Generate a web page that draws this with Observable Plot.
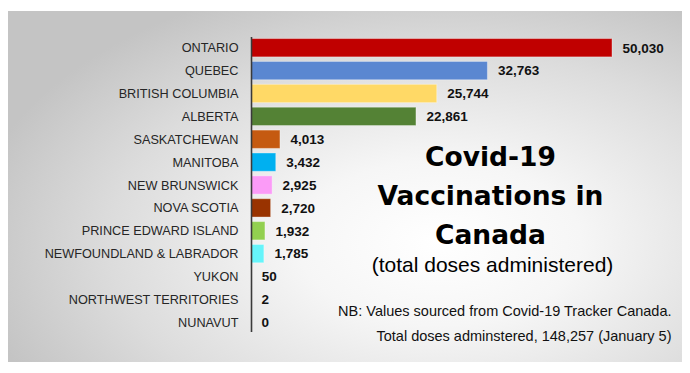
<!DOCTYPE html>
<html>
<head>
<meta charset="utf-8">
<script src="https://cdn.jsdelivr.net/npm/d3@7"></script>
<script src="https://cdn.jsdelivr.net/npm/@observablehq/plot@0.6"></script>
<style>
  html, body { margin: 0; padding: 0; background: #ffffff; }
  #wrap { position: relative; width: 690px; height: 373px; overflow: hidden; background: #ffffff; }
  #panel { position: absolute; left: 8px; top: 11px; width: 674px; height: 351px;
    background: radial-gradient(ellipse 70% 78% at 64% 66%, #ffffff 0%, #f6f6f6 30%, #dcdcdc 70%, #c4c4c4 100%); }
  #chart { position: absolute; left: 0; top: 0; }
</style>
</head>
<body>
<div id="wrap"><div id="panel"></div><div id="chart"></div></div>
<script>
const provinces = ["ONTARIO", "QUEBEC", "BRITISH COLUMBIA", "ALBERTA", "SASKATCHEWAN", "MANITOBA",
  "NEW BRUNSWICK", "NOVA SCOTIA", "PRINCE EDWARD ISLAND", "NEWFOUNDLAND & LABRADOR",
  "YUKON", "NORTHWEST TERRITORIES", "NUNAVUT"];
const doses = [50030, 32763, 25744, 22861, 4013, 3432, 2925, 2720, 1932, 1785, 50, 2, 0];
const palette = ["#C00000", "#5A87D1", "#FFD966", "#548235", "#C55A11", "#00B0F0",
  "#FB9BF7", "#993300", "#92D050", "#66F4FA", "#A0A0A0", "#A0A0A0", "#A0A0A0"];
const titleLines = ["Covid-19", "Vaccinations in", "Canada"];
const subtitle = "(total doses administered)";
const noteLines = ["NB: Values sourced from Covid-19 Tracker Canada.",
  "Total doses adminstered, 148,257 (January 5)"];

const data = provinces.map((p, i) => ({province: p, doses: doses[i]}));
const fmt = d3.format(",");

const chart = Plot.plot({
  width: 690,
  height: 373,
  marginLeft: 251,
  marginRight: 78,
  marginTop: 34,
  marginBottom: 37,
  style: {fontFamily: "'Liberation Sans', Arial, sans-serif", background: "transparent", color: "#262626"},
  x: {domain: [0, d3.max(doses)], axis: null},
  y: {domain: provinces, padding: 0.2, round: false, label: null},
  color: {domain: provinces, range: palette},
  marks: [
    Plot.barX(data, {x: "doses", y: "province", fill: "province", stroke: "#ffffff", strokeOpacity: 0.35, strokeWidth: 1}),
    Plot.ruleX([0], {stroke: "#3a3a3a", strokeWidth: 1.6, insetTop: 3, insetBottom: 4}),
    Plot.axisY({tickSize: 0, tickPadding: 13, fontSize: 12.7, label: null, fill: "#262626"}),
    Plot.text(data, {x: "doses", y: "province", text: d => fmt(d.doses), textAnchor: "start", dx: 10,
      fontWeight: "bold", fontSize: 13.5, fill: "#111"}),
    Plot.text([titleLines.join("\n")], {frameAnchor: "top-left", lineAnchor: "middle", dx: 239, dy: 158, textAnchor: "middle",
      lineHeight: 1.48, fontSize: 26.5, fontWeight: "bold", fontFamily: "'DejaVu Sans', sans-serif", fill: "#000"}),
    Plot.text([subtitle], {frameAnchor: "top-left", lineAnchor: "middle", dx: 241, dy: 231, textAnchor: "middle",
      fontSize: 21, fill: "#000"}),
    Plot.text([noteLines.join("\n")], {frameAnchor: "top-left", lineAnchor: "middle", dx: 420, dy: 286, textAnchor: "end",
      lineHeight: 1.72, fontSize: 14.5, fill: "#111"})
  ]
});
document.getElementById("chart").appendChild(chart);
</script>
</body>
</html>
